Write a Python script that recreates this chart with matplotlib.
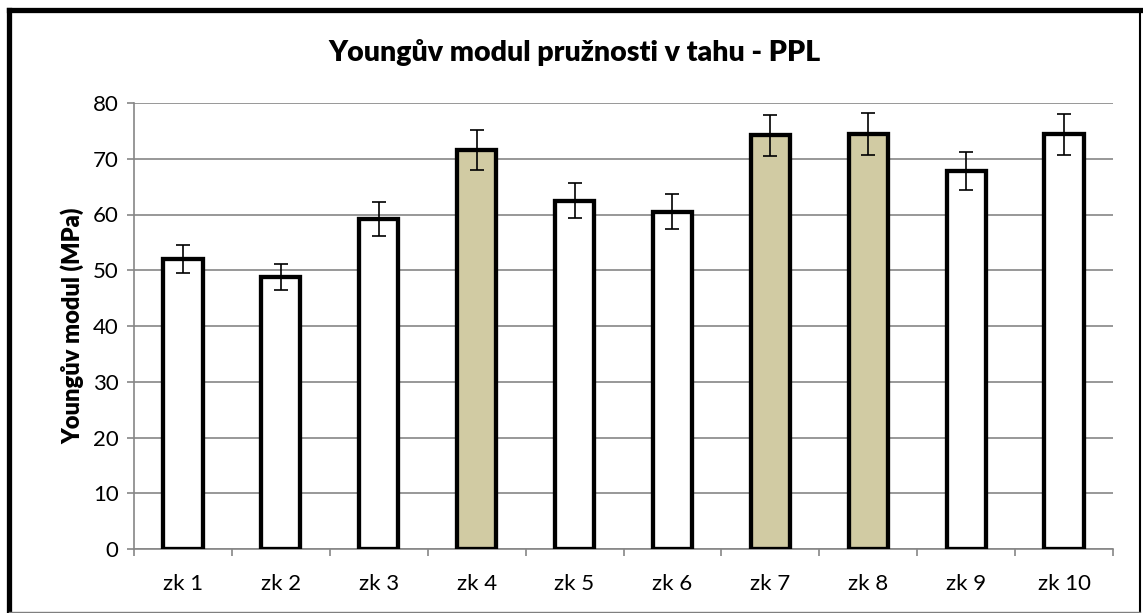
import matplotlib
matplotlib.use("Agg")
import matplotlib.pyplot as plt
from matplotlib.lines import Line2D

categories = ["zk 1", "zk 2", "zk 3", "zk 4", "zk 5", "zk 6", "zk 7", "zk 8", "zk 9", "zk 10"]
values = [52.0, 48.8, 59.2, 71.5, 62.5, 60.5, 74.2, 74.4, 67.8, 74.4]
errors = [2.5, 2.4, 3.0, 3.6, 3.1, 3.1, 3.7, 3.75, 3.4, 3.7]
highlighted = ["zk 4", "zk 7", "zk 8"]
yticks = [0, 10, 20, 30, 40, 50, 60, 70, 80]

title = "Youngův modul pružnosti v tahu - PPL"
ylabel = "Youngův modul (MPa)"

plt.rcParams['font.family'] = ['Lato', 'DejaVu Sans']

W, H = 1143, 613
fig = plt.figure(figsize=(W / 100, H / 100), dpi=100)
fig.patch.set_facecolor("white")

ax = fig.add_axes([134 / W, 1 - 549 / H, (1113 - 134) / W, (549 - 103) / H])
x = list(range(len(categories)))
colors = ["#D1CBA3" if c in highlighted else "white" for c in categories]

ax.bar(x, values, width=0.40, color=colors, edgecolor="black", linewidth=3.1, zorder=3)
ax.errorbar(x, values, yerr=errors, fmt="none", ecolor="black", elinewidth=1.2,
            capsize=5, capthick=1.2, zorder=4)

ax.set_xlim(-0.5, len(categories) - 0.5)
ax.set_ylim(0, 80)
ax.set_yticks(yticks)
ax.set_xticks(x)
ax.set_xticklabels(categories, fontsize=16)
ax.set_xticks([i - 0.5 for i in range(len(categories) + 1)], minor=True)
ax.tick_params(axis="x", which="major", length=0, pad=18)
ax.tick_params(axis="x", which="minor", length=5, width=1.2, color="#868686")
ax.tick_params(axis="y", length=5, width=1.2, color="#868686", labelsize=16, pad=6)

ax.grid(axis="y", color="#868686", linewidth=1.2, zorder=0)
ax.set_axisbelow(True)
for s in ["top", "right"]:
    ax.spines[s].set_visible(False)
for s in ["left", "bottom"]:
    ax.spines[s].set_color("#868686")
    ax.spines[s].set_linewidth(1.2)

ax.set_ylabel(ylabel, fontsize=17, fontweight="heavy", labelpad=6)
fig.text(575 / W, 1 - 52 / H, title, ha="center", va="center", fontsize=20.5, fontweight="heavy")

# outer chart frame
def fl(x0, y0, x1, y1, lw, c):
    fig.add_artist(Line2D([x0 / W, x1 / W], [1 - y0 / H, 1 - y1 / H], color=c, linewidth=lw,
                          transform=fig.transFigure, solid_capstyle="projecting"))

fl(9, 10, 1140, 10, 3.8, "black")
fl(9, 10, 9, 611, 3.8, "black")
fl(1140, 10, 1140, 611, 1.5, "black")
fl(9, 611.5, 1140, 611.5, 1.0, "#7f7f7f")

fig.savefig("out.png", dpi=100)
